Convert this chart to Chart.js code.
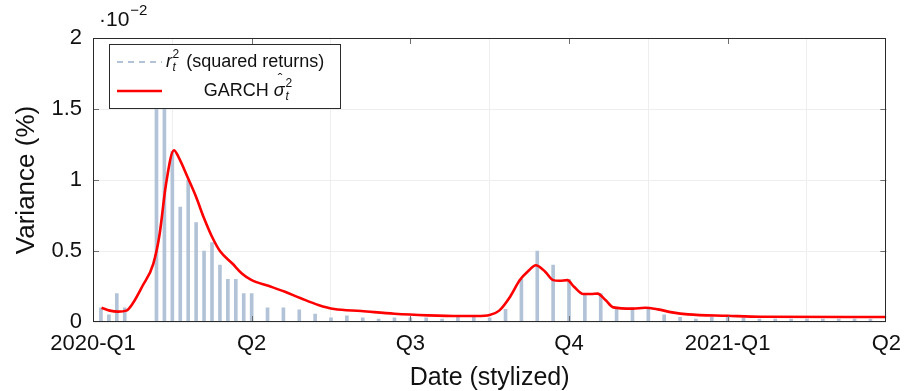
<!DOCTYPE html>
<html>
<head>
<meta charset="utf-8">
<script src="https://cdn.jsdelivr.net/npm/chart.js@4/dist/chart.umd.min.js"></script>
<style>
  html, body { margin: 0; padding: 0; background: #ffffff; }
  #wrap { width: 910px; height: 391px; position: relative; }
</style>
</head>
<body>
<div id="wrap"><canvas id="chart"></canvas></div>
<script>
// Quarter tick labels along the time axis (one unit = one quarter)
const quarterLabels = ['2020-Q1', 'Q2', 'Q3', 'Q4', '2021-Q1', 'Q2'];

// Squared returns: observation step (20 steps per quarter) and value (x 10^-2)
const returnSteps = [1, 2, 3, 4, 8, 9, 10, 11, 12, 13, 14, 15, 16, 17, 18, 19, 20,
  22, 24, 26, 28, 30, 32, 34, 36, 38, 40, 42, 44, 46, 48, 50, 52, 54, 56, 58, 60,
  62, 64, 66, 68, 70, 72, 74, 76, 78, 80, 82, 84, 86, 88, 90, 92, 94, 96, 98];
const squaredReturns = [0.10, 0.05, 0.20, 0.10, 1.90, 1.75, 1.20, 0.81, 1.00, 0.70, 0.50, 0.56, 0.40, 0.30, 0.30, 0.20, 0.20,
  0.10, 0.10, 0.085, 0.055, 0.03, 0.044, 0.03, 0.02, 0.03, 0.03, 0.03, 0.02, 0.035, 0.035, 0.03, 0.09, 0.30, 0.50, 0.40, 0.30,
  0.20, 0.20, 0.10, 0.10, 0.10, 0.05, 0.033, 0.02, 0.033, 0.033, 0.03, 0.02, 0.02, 0.02, 0.02, 0.02, 0.02, 0.02, 0.02];

// GARCH conditional variance: time (quarters) and fitted value (x 10^-2)
const garchTime = [0.054, 0.106, 0.158, 0.21, 0.25, 0.31, 0.38, 0.42, 0.46, 0.51, 0.54, 0.60, 0.65, 0.70, 0.75, 0.80,
  0.88, 0.94, 1.00, 1.11, 1.21, 1.31, 1.42, 1.52, 1.69, 1.90, 2.11, 2.31, 2.42, 2.50, 2.56, 2.63, 2.69, 2.75, 2.79,
  2.85, 2.90, 2.94, 2.99, 3.03, 3.09, 3.14, 3.18, 3.23, 3.28, 3.40, 3.48, 3.56, 3.65, 3.75, 4.00, 4.21, 5.00];
const garchVariance = [0.10, 0.08, 0.073, 0.08, 0.13, 0.25, 0.41, 0.62, 0.97, 1.21, 1.16, 1.01, 0.88, 0.73, 0.60, 0.50,
  0.41, 0.34, 0.295, 0.253, 0.213, 0.167, 0.12, 0.091, 0.077, 0.058, 0.047, 0.042, 0.042, 0.049, 0.08, 0.18, 0.295, 0.366, 0.40,
  0.354, 0.295, 0.29, 0.295, 0.25, 0.197, 0.197, 0.20, 0.155, 0.103, 0.094, 0.10, 0.089, 0.068, 0.054, 0.044, 0.037, 0.035];

const STEPS_PER_QUARTER = 20;
const FONT = "'Liberation Sans', Arial, sans-serif";
const BAR_COLOR = '#b3c3d7';

const returnPoints = returnSteps.map((s, i) => ({ x: s / STEPS_PER_QUARTER, y: squaredReturns[i] }));
const garchPoints = garchTime.map((t, i) => ({ x: t, y: garchVariance[i] }));

// Frame, inward tick marks, axis titles, exponent and the boxed legend
const decorations = {
  id: 'decorations',
  afterDraw(chart) {
    const { ctx, chartArea: a, scales: { x, y } } = chart;
    ctx.save();

    // inward tick marks on all four sides
    ctx.strokeStyle = '#6f6f6f';
    ctx.lineWidth = 1;
    const tl = 6;
    ctx.beginPath();
    for (let q = 1; q < quarterLabels.length - 1; q++) {
      const px = Math.round(x.getPixelForValue(q)) + 0.5;
      ctx.moveTo(px, a.bottom); ctx.lineTo(px, a.bottom - tl);
      ctx.moveTo(px, a.top); ctx.lineTo(px, a.top + tl);
    }
    [0.5, 1, 1.5].forEach(v => {
      const py = Math.round(y.getPixelForValue(v)) + 0.5;
      ctx.moveTo(a.left, py); ctx.lineTo(a.left + tl, py);
      ctx.moveTo(a.right, py); ctx.lineTo(a.right - tl, py);
    });
    ctx.stroke();

    // axis frame
    ctx.strokeStyle = '#2b2b2b';
    ctx.lineWidth = 1;
    ctx.strokeRect(Math.round(a.left) + 0.5, Math.round(a.top) + 0.5,
      Math.round(a.right - a.left) - 1, Math.round(a.bottom - a.top) - 1);

    ctx.fillStyle = '#111';
    ctx.textBaseline = 'middle';

    // x-axis title
    ctx.font = `25px ${FONT}`;
    ctx.textAlign = 'center';
    ctx.fillText('Date (stylized)', (a.left + a.right) / 2, 378);

    // y-axis title
    ctx.save();
    ctx.translate(27, (a.top + a.bottom) / 2);
    ctx.rotate(-Math.PI / 2);
    ctx.font = `26px ${FONT}`;
    ctx.fillText('Variance (%)', 0, 0);
    ctx.restore();

    // scale exponent
    ctx.textAlign = 'left';
    ctx.font = `21px ${FONT}`;
    ctx.fillText('\u00b710', 99, 20);
    const w10 = ctx.measureText('\u00b710').width;
    ctx.font = `15px ${FONT}`;
    ctx.fillText('\u22122', 99 + w10 + 1, 11);

    // legend box
    const lx = 109, ly = 44, lw = 231, lh = 64;
    ctx.fillStyle = '#ffffff';
    ctx.fillRect(lx, ly, lw, lh);
    ctx.strokeStyle = '#2b2b2b';
    ctx.strokeRect(lx + 0.5, ly + 0.5, lw, lh);

    const row1 = 62, row2 = 91;
    // squared returns sample (dashed)
    ctx.strokeStyle = BAR_COLOR;
    ctx.lineWidth = 2;
    ctx.setLineDash([6, 5]);
    ctx.beginPath(); ctx.moveTo(117, row1); ctx.lineTo(162, row1); ctx.stroke();
    ctx.setLineDash([]);
    // GARCH sample
    ctx.strokeStyle = '#ff0000';
    ctx.lineWidth = 2.5;
    ctx.beginPath(); ctx.moveTo(117, row2); ctx.lineTo(162, row2); ctx.stroke();

    ctx.fillStyle = '#111';
    ctx.textAlign = 'left';
    // r_t^2 (squared returns)
    let cx = 166;
    ctx.font = `italic 18px ${FONT}`;
    ctx.fillText('r', cx, row1);
    cx += ctx.measureText('r').width + 0.5;
    ctx.font = `italic 12px ${FONT}`;
    ctx.fillText('t', cx, row1 + 6);
    ctx.font = `12px ${FONT}`;
    ctx.fillText('2', cx, row1 - 7);
    cx += ctx.measureText('2').width + 7;
    ctx.font = `18px ${FONT}`;
    ctx.fillText('(squared returns)', cx, row1);

    // GARCH sigma-hat_t^2, centred in the text column
    ctx.font = `18px ${FONT}`;
    const wG = ctx.measureText('GARCH ').width;
    ctx.font = `italic 18px ${FONT}`;
    const wS = ctx.measureText('\u03c3').width;
    ctx.font = `12px ${FONT}`;
    const wSup = ctx.measureText('2').width;
    const total = wG + wS + 1 + wSup;
    cx = 248 - total / 2;
    ctx.font = `18px ${FONT}`;
    ctx.fillText('GARCH ', cx, row2);
    cx += wG;
    ctx.font = `italic 18px ${FONT}`;
    ctx.fillText('\u03c3', cx, row2);
    ctx.font = `14px ${FONT}`;
    ctx.textAlign = 'center';
    ctx.fillText('\u02c6', cx + wS / 2 + 1, row2 - 11);
    ctx.textAlign = 'left';
    cx += wS + 1;
    ctx.font = `italic 12px ${FONT}`;
    ctx.fillText('t', cx, row2 + 6);
    ctx.font = `12px ${FONT}`;
    ctx.fillText('2', cx, row2 - 7);

    ctx.restore();
  }
};

new Chart(document.getElementById('chart'), {
  type: 'bar',
  data: {
    datasets: [
      {
        type: 'line',
        label: 'GARCH',
        data: garchPoints,
        borderColor: '#ff0000',
        borderWidth: 2.6,
        pointRadius: 0,
        cubicInterpolationMode: 'monotone',
        fill: false,
        order: 0
      },
      {
        type: 'bar',
        label: 'squared returns',
        data: returnPoints,
        backgroundColor: BAR_COLOR,
        barThickness: 3,
        grouped: false,
        order: 1
      }
    ]
  },
  options: {
    responsive: true,
    maintainAspectRatio: false,
    animation: false,
    layout: { padding: { left: 0, right: 18, top: 38, bottom: 0 } },
    plugins: { legend: { display: false }, tooltip: { enabled: false } },
    scales: {
      x: {
        type: 'linear',
        min: 0,
        max: 5,
        offset: false,
        afterFit(scale) { scale.height = 69; },
        afterBuildTicks(scale) {
          scale.ticks = quarterLabels.map((_, i) => ({ value: i }));
        },
        ticks: {
          autoSkip: false,
          maxRotation: 0,
          padding: 9,
          color: '#111',
          font: { family: FONT, size: 22 },
          callback: (v) => quarterLabels[v]
        },
        grid: { color: '#eeeeee', drawTicks: false },
        border: { display: false }
      },
      y: {
        min: 0,
        max: 2,
        afterFit(scale) { scale.width = 93; },
        ticks: {
          stepSize: 0.5,
          padding: 11,
          color: '#111',
          font: { family: FONT, size: 22 },
          callback: (v) => String(v)
        },
        grid: { color: '#eeeeee', drawTicks: false },
        border: { display: false }
      }
    }
  },
  plugins: [decorations]
});
</script>
</body>
</html>
